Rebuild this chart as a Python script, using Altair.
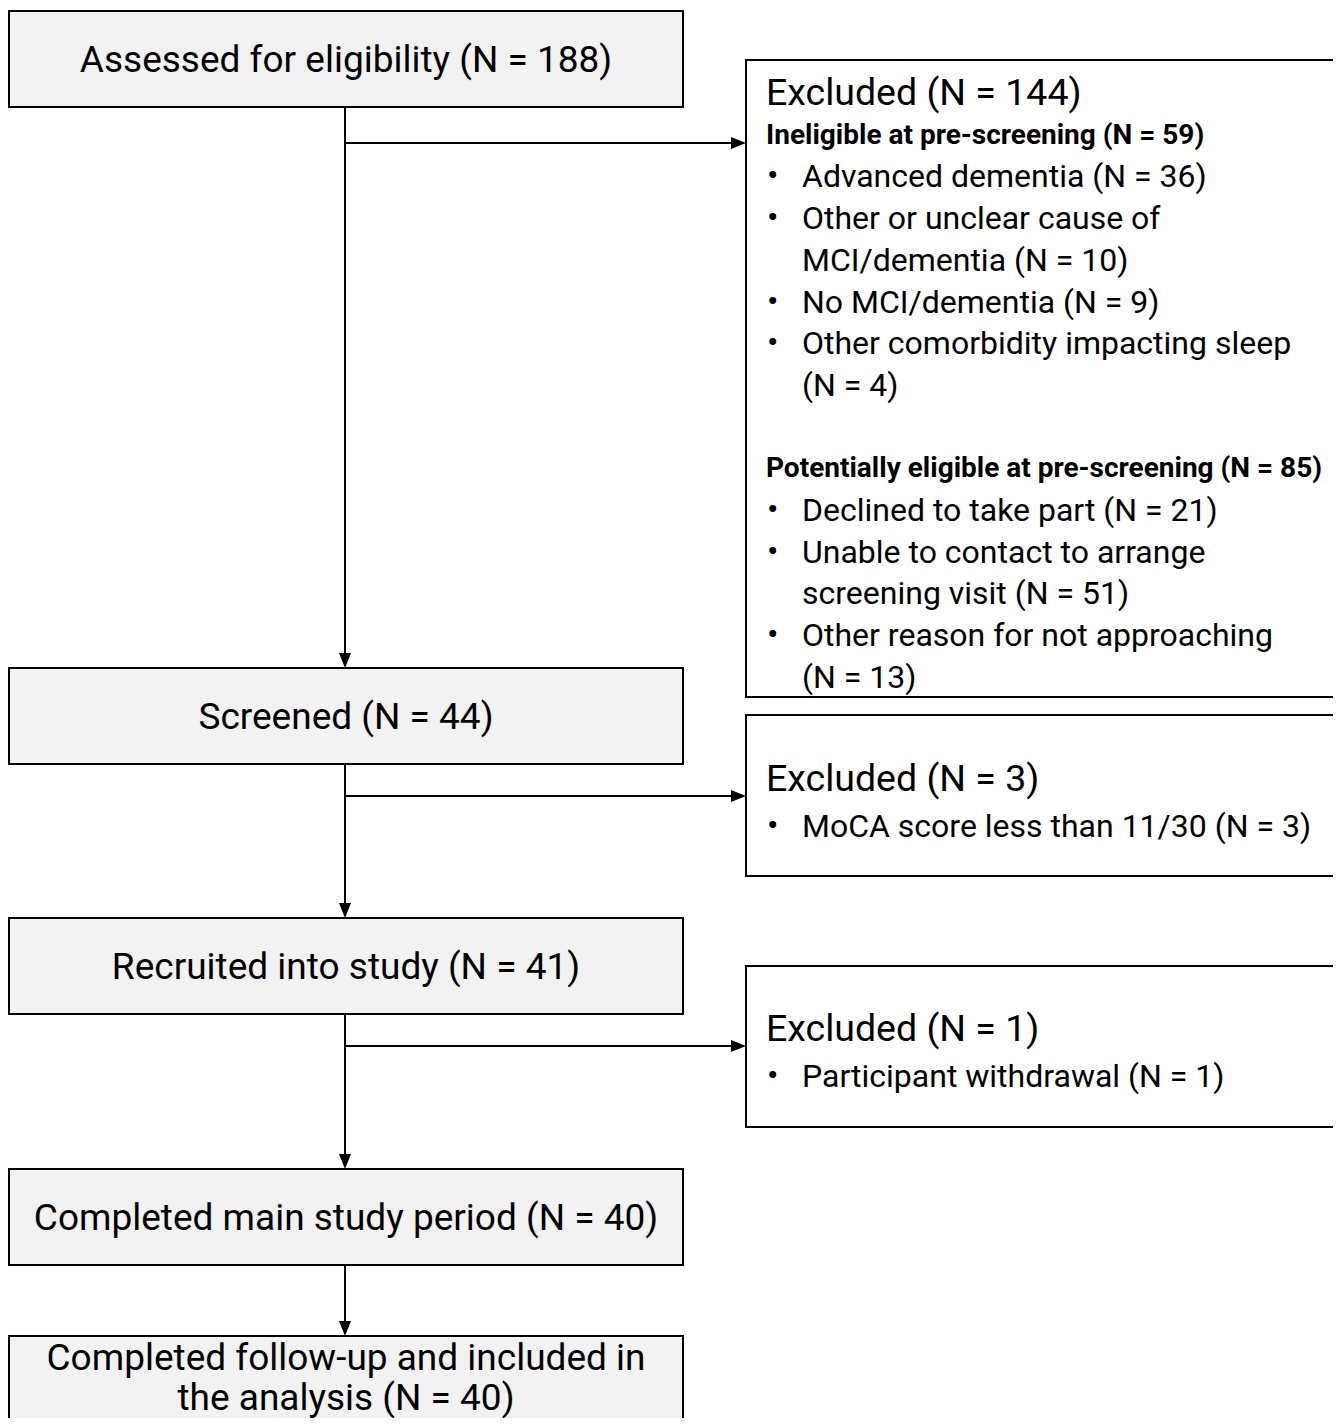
import altair as alt
import pandas as pd

# ---- content ----
left_labels = [
    ["Assessed for eligibility (N = 188)"],
    ["Screened (N = 44)"],
    ["Recruited into study (N = 41)"],
    ["Completed main study period (N = 40)"],
    ["Completed follow-up and included in", "the analysis (N = 40)"],
]

excl1 = [
    ("head", "Excluded (N = 144)"),
    ("sub", "Ineligible at pre-screening (N = 59)"),
    ("bullet", "Advanced dementia (N = 36)"),
    ("bullet", "Other or unclear cause of"),
    ("cont", "MCI/dementia (N = 10)"),
    ("bullet", "No MCI/dementia (N = 9)"),
    ("bullet", "Other comorbidity impacting sleep"),
    ("cont", "(N = 4)"),
    ("gap", ""),
    ("sub", "Potentially eligible at pre-screening (N = 85)"),
    ("bullet", "Declined to take part (N = 21)"),
    ("bullet", "Unable to contact to arrange"),
    ("cont", "screening visit (N = 51)"),
    ("bullet", "Other reason for not approaching"),
    ("cont", "(N = 13)"),
]
excl2 = [
    ("head", "Excluded (N = 3)"),
    ("bullet", "MoCA score less than 11/30 (N = 3)"),
]
excl3 = [
    ("head", "Excluded (N = 1)"),
    ("bullet", "Participant withdrawal (N = 1)"),
]
right_contents = [excl1, excl2, excl3]

# ---- layout (pixel space of the figure) ----
W, H = 1325, 1410
X0, Y0 = 8, 8
LX0, LX1 = 9, 683
LCX = 346
left_tops = [11, 668, 918, 1169, 1336]
left_bots = [107, 764, 1014, 1265, 1460]
RX0, RX1 = 746, 1400
right_tops = [60, 715, 966]
right_bots = [697, 876, 1127]
branch_y = [143, 796, 1046]
right_first = [91, 777, 1027]
STEM_X = 345
ARROW_LEN = 15
TY = 3  # vertical text nudge

FONT = "Roboto"
INK = "#000000"

rects = []
for t, b in zip(left_tops, left_bots):
    rects.append(dict(x=LX0, x2=LX1, y=t, y2=b, fill="#f2f2f2"))
for t, b in zip(right_tops, right_bots):
    rects.append(dict(x=RX0, x2=RX1, y=t, y2=b, fill="#ffffff"))
rects = pd.DataFrame(rects)

# connector lines
segs = []
for i in range(len(left_tops) - 1):
    segs.append(dict(x=STEM_X, x2=STEM_X, y=left_bots[i], y2=left_tops[i + 1] - ARROW_LEN + 2))
for by in branch_y:
    segs.append(dict(x=STEM_X, x2=RX0 - ARROW_LEN + 2, y=by, y2=by))
segs = pd.DataFrame(segs)

down_heads = pd.DataFrame([dict(x=STEM_X, y=t - ARROW_LEN / 2) for t in left_tops[1:]])
right_heads = pd.DataFrame([dict(x=RX0 - ARROW_LEN / 2, y=by) for by in branch_y])

# left texts
ltxt = []
for lines, t, b in zip(left_labels, left_tops, left_bots):
    if len(lines) == 1:
        ltxt.append(dict(x=LCX, y=(t + b) / 2 + TY - 1, text=lines[0]))
    else:
        for k, ln in enumerate(lines):
            ltxt.append(dict(x=LCX, y=t + 23 + k * 40, text=ln))
ltxt = pd.DataFrame(ltxt)

# right texts
heads, subs, items, bullets = [], [], [], []
for content, y0 in zip(right_contents, right_first):
    y = y0 + TY
    prev = None
    for kind, text in content:
        if prev is not None:
            if prev == "head" and kind == "bullet":
                y += 47
            else:
                y += 41.7
        if kind == "head":
            heads.append(dict(x=766, y=y, text=text))
        elif kind == "sub":
            subs.append(dict(x=766, y=y, text=text))
        elif kind == "bullet":
            bullets.append(dict(x=767, y=y, text="•"))
            items.append(dict(x=802, y=y, text=text))
        elif kind == "cont":
            items.append(dict(x=802, y=y, text=text))
        prev = kind

xs = alt.Scale(domain=[X0, X0 + W])
ys = alt.Scale(domain=[Y0, Y0 + H], reverse=True)


def X(f="x"):
    return alt.X(f"{f}:Q", scale=xs, axis=None)


def Y(f="y"):
    return alt.Y(f"{f}:Q", scale=ys, axis=None)


box_layer = alt.Chart(rects).mark_rect(stroke=INK, strokeWidth=2).encode(
    x=X(), x2="x2:Q", y=Y(), y2="y2:Q", fill=alt.Fill("fill:N", scale=None)
)
seg_layer = alt.Chart(segs).mark_rule(color=INK, strokeWidth=2).encode(
    x=X(), x2="x2:Q", y=Y(), y2="y2:Q"
)
down_layer = alt.Chart(down_heads).mark_point(
    shape="M-0.8,-1L0.8,-1L0,1Z", filled=True, fill=INK, opacity=1,
    size=ARROW_LEN ** 2,
).encode(x=X(), y=Y())
right_layer = alt.Chart(right_heads).mark_point(
    shape="M-1,-0.8L1,0L-1,0.8Z", filled=True, fill=INK, opacity=1,
    size=ARROW_LEN ** 2,
).encode(x=X(), y=Y())

ltext_layer = alt.Chart(ltxt).mark_text(
    font=FONT, fontSize=37, align="center", baseline="middle", color=INK
).encode(x=X(), y=Y(), text="text:N")
head_layer = alt.Chart(pd.DataFrame(heads)).mark_text(
    font=FONT, fontSize=37.5, align="left", baseline="middle", color=INK
).encode(x=X(), y=Y(), text="text:N")
sub_layer = alt.Chart(pd.DataFrame(subs)).mark_text(
    font=FONT, fontSize=28, fontWeight="bold", align="left", baseline="middle", color=INK
).encode(x=X(), y=Y(), text="text:N")
item_layer = alt.Chart(pd.DataFrame(items)).mark_text(
    font=FONT, fontSize=32, align="left", baseline="middle", color=INK
).encode(x=X(), y=Y(), text="text:N")
bullet_layer = alt.Chart(pd.DataFrame(bullets)).mark_text(
    font=FONT, fontSize=34, align="left", baseline="middle", color=INK
).encode(x=X(), y=Y(), text="text:N")

chart = alt.layer(
    box_layer, seg_layer, down_layer, right_layer,
    ltext_layer, head_layer, sub_layer, item_layer, bullet_layer,
).properties(
    width=W, height=H, padding=0, autosize=alt.AutoSizeParams(type="none"),
    background="#ffffff",
).configure_view(stroke=None)

chart.save("out.html", embed_options={"renderer": "svg", "actions": False})
